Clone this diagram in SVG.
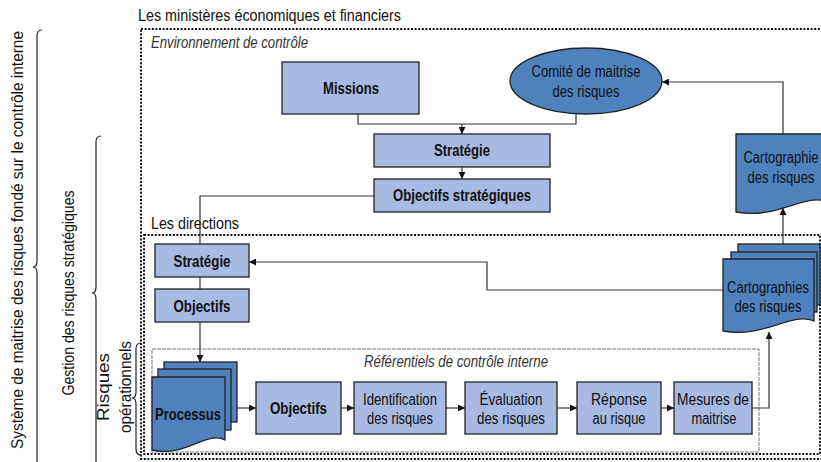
<svg xmlns="http://www.w3.org/2000/svg" width="821" height="462" viewBox="0 0 821 462">
<defs>
<marker id="ah" viewBox="0 0 10 10" refX="10" refY="5" markerWidth="7" markerHeight="7" markerUnits="userSpaceOnUse" orient="auto"><path d="M0,0 L10,5 L0,10 z" fill="#111"/></marker>
<style>
.t{font-family:"Liberation Sans Narrow","Liberation Sans",Arial,sans-serif;fill:#111;font-size:16px}
.m{text-anchor:middle}
.b{font-weight:bold}
.i{font-style:italic;fill:#333}
.box{fill:#a8b9e3;stroke:#222;stroke-width:1.3}
.dk{fill:#4f81bd;stroke:#222;stroke-width:1.3}
.c{fill:none;stroke:#333;stroke-width:1.2}
.dot{fill:none;stroke:#111;stroke-width:2;stroke-dasharray:2 1.6}
.ref{fill:none;stroke:#777;stroke-width:1;stroke-dasharray:4 1}
.br{fill:none;stroke:#222;stroke-width:1.2}
</style>
</defs>
<rect width="821" height="462" fill="#fff"/>

<g id="frames">
<rect class="dot" x="141" y="29" width="700" height="430"/>
<rect class="dot" x="144" y="235" width="676" height="219"/>
<rect class="ref" x="152" y="349" width="607" height="103"/>
<text class="t" x="138" y="21" textLength="263" lengthAdjust="spacingAndGlyphs">Les ministères économiques et financiers</text>
<text class="t i" x="151" y="48" textLength="157" lengthAdjust="spacingAndGlyphs">Environnement de contrôle</text>
<text class="t" x="151" y="229" textLength="88" lengthAdjust="spacingAndGlyphs">Les directions</text>
<text class="t i m" x="456" y="367" textLength="184" lengthAdjust="spacingAndGlyphs">Référentiels de contrôle interne</text>
</g>

<g id="braces">
<path class="br" d="M42,30 Q37,30 37,36 V261 Q37,267 33,267 Q37,267 37,273 V462"/>
<path class="br" d="M101,136 Q96,136 96,142 V287 Q96,293 92,293 Q96,293 96,299 V462"/>
<path class="br" d="M141,343 Q136,343 136,349 V392 Q136,398 132,398 Q136,398 136,404 V449 Q136,455 141,455"/>
<text class="t m" transform="translate(23,240) rotate(-90)" textLength="418" lengthAdjust="spacingAndGlyphs">Système de maitrise des risques fondé sur le contrôle interne</text>
<text class="t m" transform="translate(74,293) rotate(-90)" textLength="205" lengthAdjust="spacingAndGlyphs">Gestion des risques stratégiques</text>
<text class="t m" transform="translate(109,387) rotate(-90)" textLength="68" lengthAdjust="spacingAndGlyphs">Risques</text>
<text class="t m" transform="translate(131,387) rotate(-90)" textLength="92" lengthAdjust="spacingAndGlyphs">opérationnels</text>
</g>

<g id="connectors">
<polyline class="c" points="358,114 358,124 576,124 576,114"/>
<line class="c" x1="462" y1="124" x2="462" y2="134" marker-end="url(#ah)"/>
<line class="c" x1="462" y1="167" x2="462" y2="179" marker-end="url(#ah)"/>
<polyline class="c" points="374,196 200,196 200,244"/>
<line class="c" x1="200" y1="277" x2="200" y2="289"/>
<line class="c" x1="200" y1="322" x2="200" y2="362" marker-end="url(#ah)"/>
<line class="c" x1="237" y1="408" x2="256" y2="408" marker-end="url(#ah)"/>
<line class="c" x1="341" y1="408" x2="354" y2="408" marker-end="url(#ah)"/>
<line class="c" x1="446" y1="408" x2="465" y2="408" marker-end="url(#ah)"/>
<line class="c" x1="557" y1="408" x2="577" y2="408" marker-end="url(#ah)"/>
<line class="c" x1="661" y1="408" x2="674" y2="408" marker-end="url(#ah)"/>
<polyline class="c" points="752,408 769,408 769,332" marker-end="url(#ah)"/>
<polyline class="c" points="723,290 487,290 487,262 249,262" marker-end="url(#ah)"/>
<line class="c" x1="783" y1="244" x2="783" y2="208" marker-end="url(#ah)"/>
<polyline class="c" points="783,134 783,82 662,82" marker-end="url(#ah)"/>
</g>

<g id="missions">
<rect class="box" x="282" y="62" width="137" height="52"/>
<text class="t b m" x="351" y="94" textLength="56" lengthAdjust="spacingAndGlyphs">Missions</text>
</g>

<g id="comite">
<ellipse class="dk" cx="586" cy="81" rx="76" ry="33"/>
<text class="t m" x="586" y="77" textLength="109" lengthAdjust="spacingAndGlyphs">Comité de maitrise</text>
<text class="t m" x="586" y="97" textLength="67" lengthAdjust="spacingAndGlyphs">des risques</text>
</g>

<g id="strategie-min">
<rect class="box" x="374" y="134" width="176" height="33"/>
<text class="t b m" x="462" y="156" textLength="56" lengthAdjust="spacingAndGlyphs">Stratégie</text>
</g>

<g id="objectifs-strat">
<rect class="box" x="374" y="179" width="176" height="33"/>
<text class="t b m" x="462" y="201" textLength="138" lengthAdjust="spacingAndGlyphs">Objectifs stratégiques</text>
</g>

<g id="cartographie-min">
<path class="dk" d="M736,134 H828 V202 C805,192 777.4,220 736,212 Z"/>
<text class="t m" x="781" y="163" textLength="75" lengthAdjust="spacingAndGlyphs">Cartographie</text>
<text class="t m" x="781" y="183" textLength="67" lengthAdjust="spacingAndGlyphs">des risques</text>
</g>

<g id="strategie-dir">
<rect class="box" x="155" y="244" width="94" height="33"/>
<text class="t b m" x="202" y="267" textLength="57" lengthAdjust="spacingAndGlyphs">Stratégie</text>
</g>

<g id="objectifs-dir">
<rect class="box" x="155" y="289" width="94" height="33"/>
<text class="t b m" x="202" y="312" textLength="57" lengthAdjust="spacingAndGlyphs">Objectifs</text>
</g>

<g id="cartographies-dir">
<rect class="dk" x="738" y="244" width="82" height="61"/>
<rect class="dk" x="731" y="252" width="86" height="60"/>
<path class="dk" d="M723,259 H814 V321 C791.25,311 763.95,339 723,331 Z"/>
<text class="t m" x="768" y="293" textLength="82" lengthAdjust="spacingAndGlyphs">Cartographies</text>
<text class="t m" x="768" y="312" textLength="67" lengthAdjust="spacingAndGlyphs">des risques</text>
</g>

<g id="processus">
<rect class="dk" x="164" y="362" width="73" height="60"/>
<rect class="dk" x="158" y="369" width="73" height="61"/>
<path class="dk" d="M152,377 H225 V440 C206.75,430 184.85,458 152,450 Z"/>
<text class="t b m" x="188" y="420" textLength="66" lengthAdjust="spacingAndGlyphs">Processus</text>
</g>

<g id="objectifs-ops">
<rect class="box" x="256" y="382" width="85" height="52"/>
<text class="t b m" x="298.5" y="414" textLength="57" lengthAdjust="spacingAndGlyphs">Objectifs</text>
</g>

<g id="identification">
<rect class="box" x="354" y="382" width="92" height="52"/>
<text class="t m" x="400" y="405" textLength="74" lengthAdjust="spacingAndGlyphs">Identification</text>
<text class="t m" x="400" y="424" textLength="66" lengthAdjust="spacingAndGlyphs">des risques</text>
</g>

<g id="evaluation">
<rect class="box" x="465" y="382" width="92" height="52"/>
<text class="t m" x="511" y="405" textLength="63" lengthAdjust="spacingAndGlyphs">Évaluation</text>
<text class="t m" x="511" y="424" textLength="68" lengthAdjust="spacingAndGlyphs">des risques</text>
</g>

<g id="reponse">
<rect class="box" x="577" y="382" width="84" height="52"/>
<text class="t m" x="619" y="405" textLength="56" lengthAdjust="spacingAndGlyphs">Réponse</text>
<text class="t m" x="619" y="424" textLength="53" lengthAdjust="spacingAndGlyphs">au risque</text>
</g>

<g id="mesures">
<rect class="box" x="674" y="382" width="78" height="52"/>
<text class="t m" x="713" y="405" textLength="72" lengthAdjust="spacingAndGlyphs">Mesures de</text>
<text class="t m" x="714" y="424" textLength="45" lengthAdjust="spacingAndGlyphs">maitrise</text>
</g>
</svg>
